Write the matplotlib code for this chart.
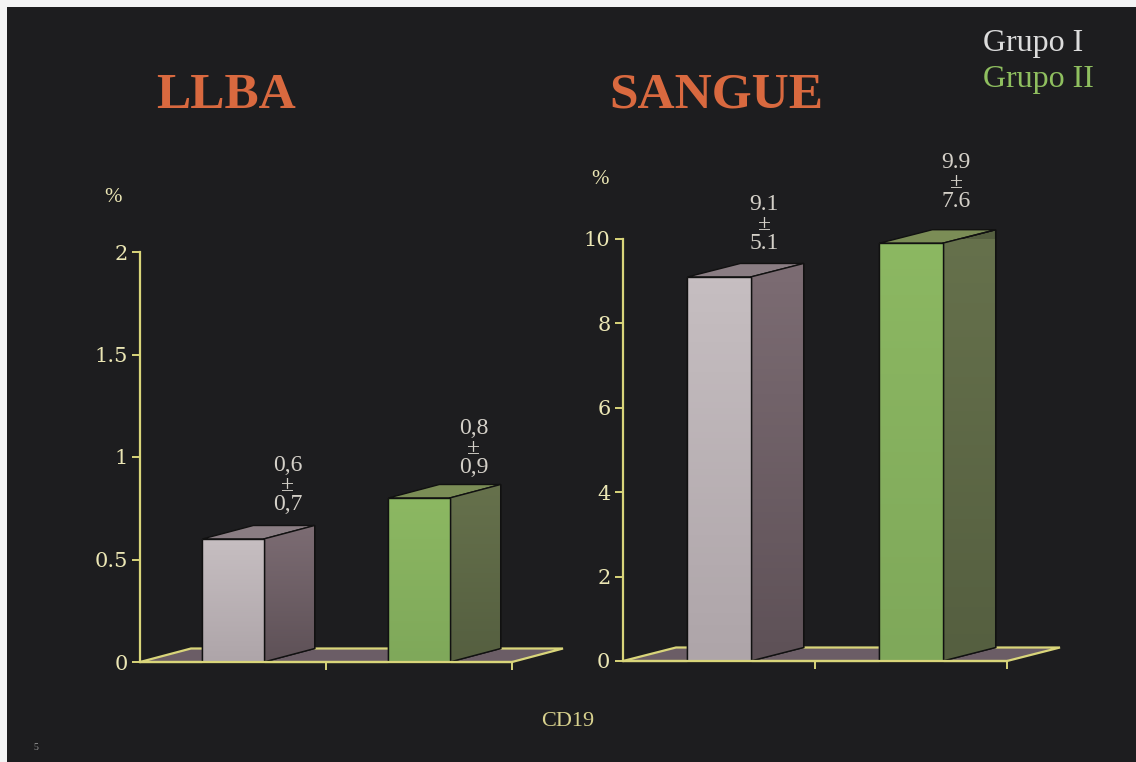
import matplotlib
matplotlib.use("Agg")
import numpy as np
import matplotlib.pyplot as plt
from matplotlib.patches import Polygon, Rectangle
from matplotlib.colors import LinearSegmentedColormap

# ---------------- data ----------------
panels = ["LLBA", "SANGUE"]
groups = ["Grupo I", "Grupo II"]
llba_values = [0.6, 0.8]
llba_labels = ["0,6\n±\n0,7", "0,8\n±\n0,9"]
sangue_values = [9.1, 9.9]
sangue_labels = ["9.1\n±\n5.1", "9.9\n±\n7.6"]
llba_ticks = [0, 0.5, 1, 1.5, 2]
llba_ticklabels = ["0", "0.5", "1", "1.5", "2"]
sangue_ticks = [0, 2, 4, 6, 8, 10]
sangue_ticklabels = ["0", "2", "4", "6", "8", "10"]
xlabel = "CD19"
ylabel = "%"
page_number = "5"

# ---------------- style ----------------
W, H = 1136, 762
BG = "#1d1d1f"
AXIS = "#d9d57a"
TICKTXT = "#ebe6b4"
TITLE = "#d9693f"
VALTXT = "#d4d0c8"
FLOOR = "#6b5d66"
FRONT = [("#c6bec1", "#aea5a9"), ("#8cb862", "#7fa85a")]
SIDE = [("#7c6c73", "#5e5157"), ("#66714c", "#555f40")]
TOP = ["#8a7d83", "#7b8d56"]
SERIF = ["Liberation Serif", "DejaVu Serif"]
TICKFONT = ["DejaVu Serif"]

fig = plt.figure(figsize=(W / 100, H / 100), dpi=100, facecolor=BG)
# white border on top and left
fig.patches.append(Rectangle((0, 1 - 7 / H), 1, 7 / H, transform=fig.transFigure,
                             facecolor="#f4f4f4", edgecolor="none", zorder=-1))
fig.patches.append(Rectangle((0, 0), 7 / W, 1, transform=fig.transFigure,
                             facecolor="#f4f4f4", edgecolor="none", zorder=-1))


def px_rect(x0, x1, ytop, ybot):
    return [x0 / W, 1 - ybot / H, (x1 - x0) / W, (ybot - ytop) / H]


def shade(ax, patch, c_top, c_bot, extent, z):
    cmap = LinearSegmentedColormap.from_list("g", [c_bot, c_top])
    grad = np.linspace(0, 1, 64).reshape(-1, 1)
    im = ax.imshow(grad, cmap=cmap, origin="lower", aspect="auto",
                   extent=extent, zorder=z, clip_on=True)
    im.set_clip_path(patch)


def panel(rect, ymax, values, labels, ticks, ticklabels, title, title_xy,
          depth_px, lab_dx, lab_off, pct_xy):
    ax = fig.add_axes(rect)
    ax.set_facecolor("none")
    # pixel -> data conversions
    pos = ax.get_position()
    ppx = pos.width * W          # pixels per x unit
    ppy = pos.height * H / ymax  # pixels per y unit
    dx = depth_px[0] / ppx
    dy = depth_px[1] / ppy

    for s in ["top", "right"]:
        ax.spines[s].set_visible(False)
    ax.spines["left"].set_color(AXIS)
    ax.spines["left"].set_linewidth(1.6)
    ax.spines["left"].set_bounds(0, ymax)
    ax.spines["bottom"].set_color(AXIS)
    ax.spines["bottom"].set_linewidth(1.6)
    ax.spines["bottom"].set_zorder(6)

    # floor
    floor = Polygon([(0, 0), (1, 0), (1 + dx, dy), (dx, dy)], closed=True,
                    facecolor=FLOOR, edgecolor=AXIS, linewidth=1.6,
                    clip_on=False, zorder=1)
    ax.add_patch(floor)

    xs = [0.25, 0.75]
    w = 0.165
    for i, (x, v) in enumerate(zip(xs, values)):
        bars = ax.bar(x, v, width=w, color=FRONT[i][1], edgecolor="#111111",
                      linewidth=1.0, zorder=4, clip_on=False)
        r = x + w / 2
        l = x - w / 2
        shade(ax, bars[0], FRONT[i][0], FRONT[i][1], (l, r, 0, v), 4.5)
        ax.bar(x, v, width=w, facecolor="none", edgecolor="#111111",
               linewidth=1.0, zorder=5, clip_on=False)
        side = Polygon([(r, 0), (r + dx, dy), (r + dx, v + dy), (r, v)],
                       closed=True, facecolor=SIDE[i][1], edgecolor="#111111",
                       linewidth=1.0, zorder=3, clip_on=False)
        top = Polygon([(l, v), (r, v), (r + dx, v + dy), (l + dx, v + dy)],
                      closed=True, facecolor=TOP[i], edgecolor="#111111",
                      linewidth=1.0, zorder=3, clip_on=False)
        ax.add_patch(side)
        shade(ax, side, SIDE[i][0], SIDE[i][1], (r, r + dx, 0, v + dy), 3.2)
        ax.add_patch(Polygon([(r, 0), (r + dx, dy), (r + dx, v + dy), (r, v)],
                             closed=True, facecolor="none", edgecolor="#111111",
                             linewidth=1.0, zorder=3.5, clip_on=False))
        ax.add_patch(top)
        ax.annotate(labels[i], xy=(r + lab_dx, v), xytext=(0, lab_off[i]),
                    textcoords="offset pixels", ha="center", va="bottom",
                    family=SERIF, fontsize=17, color=VALTXT,
                    linespacing=0.9, annotation_clip=False, zorder=7)

    ax.set_xlim(0, 1)
    ax.set_ylim(0, ymax)
    ax.set_yticks(ticks)
    ax.set_yticklabels(ticklabels, family=TICKFONT, fontsize=15, color=TICKTXT)
    ax.tick_params(axis="y", colors=AXIS, length=6, width=1.4, pad=3,
                   labelcolor=TICKTXT)
    ax.set_xticks([0.5, 1.0])
    ax.set_xticklabels([])
    ax.tick_params(axis="x", colors=AXIS, length=6, width=1.4)

    fig.text(title_xy[0] / W, 1 - title_xy[1] / H, title, family=SERIF,
             fontsize=37, fontweight="bold", color=TITLE, ha="center",
             va="center")
    fig.text(pct_xy[0] / W, 1 - pct_xy[1] / H, ylabel, family=SERIF,
             fontsize=15, color=TICKTXT, ha="center", va="center")
    return ax


panel(px_rect(140, 512, 252, 662), 2.0, llba_values, llba_labels,
      llba_ticks, llba_ticklabels, panels[0], (226, 96), (51, 13.5),
      0.065, [24, 20], (113, 197))
panel(px_rect(623, 1007, 239, 661), 10.0, sangue_values, sangue_labels,
      sangue_ticks, sangue_ticklabels, panels[1], (716, 96), (53, 13.5),
      0.035, [23, 31], (600, 180))

# legend as coloured text
fig.text(983 / W, 1 - 43 / H, groups[0], family=SERIF, fontsize=23,
         color="#dcdcdc", ha="left", va="center")
fig.text(983 / W, 1 - 79 / H, groups[1], family=SERIF, fontsize=23,
         color="#8fbf5f", ha="left", va="center")

fig.text(568 / W, 1 - 722 / H, xlabel, family=SERIF, fontsize=16,
         color="#d9d28e", ha="center", va="center")
fig.text(36 / W, 1 - 748 / H, page_number, family=SERIF, fontsize=7,
         color="#9a9a9a", ha="center", va="center")

fig.savefig("out.png", dpi=100, facecolor=BG)
